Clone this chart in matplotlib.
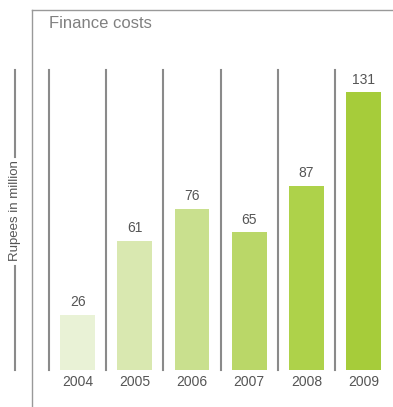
import matplotlib
matplotlib.use("Agg")
import matplotlib.pyplot as plt
from matplotlib.lines import Line2D

years = ["2004", "2005", "2006", "2007", "2008", "2009"]
values = [26, 61, 76, 65, 87, 131]
colors = ["#e9f2d6", "#d9e8b0", "#c9e08e", "#bad768", "#aed24a", "#a6cc3a"]
title = "Finance costs"
ylabel = "Rupees in million"

W, H = 393, 407
fig = plt.figure(figsize=(W / 100, H / 100), dpi=100)
plt.rcParams['font.family'] = ['Liberation Sans', 'DejaVu Sans']

txt = "#555555"
sep = "#8a8a8a"

# axes: left at px 49, bottom at px 370 (from top), top at px 70
ax = fig.add_axes([49 / W, (H - 370) / H, 1 - 49 / W, 300 / H])
n = len(years)
ax.set_xlim(-0.5, -0.5 + (W - 49) / 57.2)
ax.set_ylim(0, 300 / 2.12)
ax.axis("off")

xs = list(range(n))
ax.bar(xs, values, width=0.61, color=colors, edgecolor="none")
for i in range(n):
    ax.axvline(i - 0.5, color=sep, lw=1.5, clip_on=False)
for x, v, y in zip(xs, values, years):
    ax.annotate(str(v), (x, v), xytext=(0, 4), textcoords="offset points",
                ha="center", va="bottom", fontsize=10, color=txt)
    ax.annotate(y, (x, 0), xytext=(0, -9), textcoords="offset points",
                ha="center", va="center", fontsize=10, color=txt)

# frame lines
fc = "#999999"
fig.add_artist(Line2D([32 / W, 32 / W], [0, 1 - 10 / H], transform=fig.transFigure, color=fc, lw=1))
fig.add_artist(Line2D([32 / W, 1], [1 - 10 / H, 1 - 10 / H], transform=fig.transFigure, color=fc, lw=1))

fig.text(49 / W, 1 - 23 / H, title, fontsize=12, color="#808080", ha="left", va="center")

# y label with lines
xl = 15 / W
fig.add_artist(Line2D([xl, xl], [1 - 70 / H, 1 - 157 / H], transform=fig.transFigure, color=sep, lw=1.5))
fig.add_artist(Line2D([xl, xl], [1 - 266 / H, 1 - 370 / H], transform=fig.transFigure, color=sep, lw=1.5))
fig.text(xl, 1 - 211 / H, ylabel, rotation=90, fontsize=9.5, color=txt, ha="center", va="center")

fig.savefig("out.png", dpi=100)
